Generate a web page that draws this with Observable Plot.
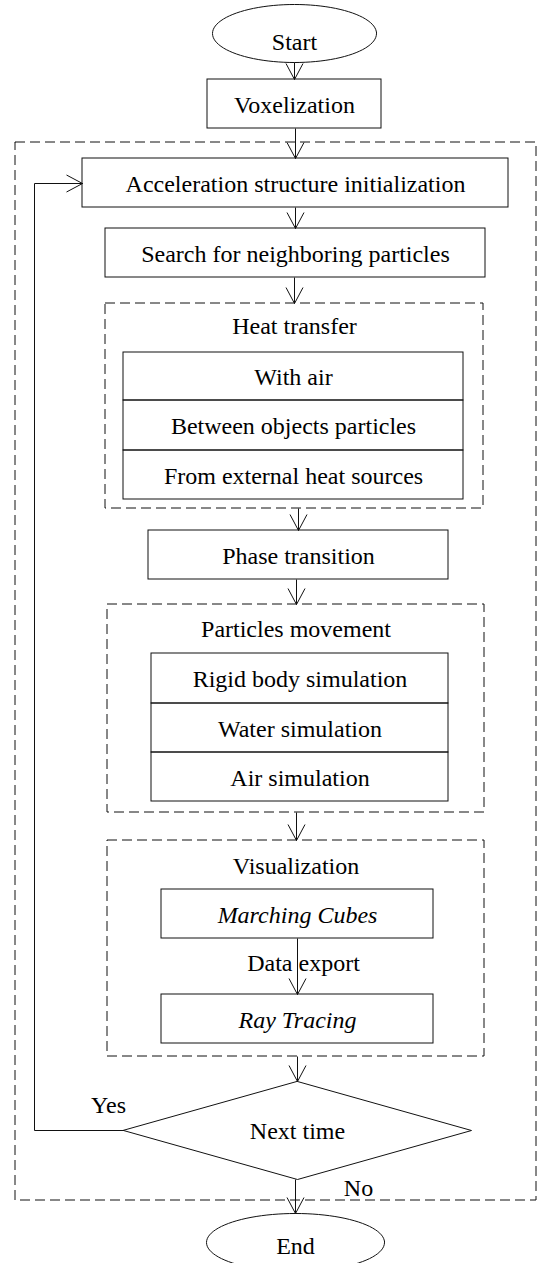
<!DOCTYPE html>
<html>
<head>
<meta charset="utf-8">
<script src="https://cdn.jsdelivr.net/npm/d3@7"></script>
<script src="https://cdn.jsdelivr.net/npm/@observablehq/plot@0.6"></script>
<style>
  html, body { margin: 0; padding: 0; background: #fff; }
  #chart svg { display: block; }
</style>
</head>
<body>
<div id="chart"></div>
<script>
// ---------------- data (labels and flow) ----------------
const terminals = ["Start", "End"];
const steps = ["Voxelization", "Acceleration structure initialization", "Search for neighboring particles", "Phase transition"];
const groups = ["Heat transfer", "Particles movement", "Visualization"];
const heatTransfer = ["With air", "Between objects particles", "From external heat sources"];
const particlesMovement = ["Rigid body simulation", "Water simulation", "Air simulation"];
const visualization = ["Marching Cubes", "Ray Tracing"];
const decision = ["Next time"];
const edgeLabels = ["Data export", "Yes", "No"];
const flow = [
  ["Start", "Voxelization"],
  ["Voxelization", "Acceleration structure initialization"],
  ["Acceleration structure initialization", "Search for neighboring particles"],
  ["Search for neighboring particles", "Heat transfer"],
  ["Heat transfer", "Phase transition"],
  ["Phase transition", "Particles movement"],
  ["Particles movement", "Visualization"],
  ["Marching Cubes", "Ray Tracing"],
  ["Visualization", "Next time"],
  ["Next time", "End"]
];
const loopBack = ["Next time", "Acceleration structure initialization"]; // "Yes" branch

// ---------------- layout (pixels, kept apart from the data) ----------------
const W = 537, H = 1263;
const stepBoxes = { // [x1, x2, y1, y2]
  "Voxelization": [207, 381, 79, 128],
  "Acceleration structure initialization": [82, 508, 158, 207],
  "Search for neighboring particles": [105, 485, 228, 277],
  "Phase transition": [148, 448, 530, 579]
};
const groupBoxes = { // dashed container, title centre y, inner stack x-range and row edges
  "Heat transfer": {box: [105, 483, 303, 508], titleY: 325, inner: [123, 463], rows: [352, 400, 450, 499]},
  "Particles movement": {box: [107, 484, 604, 812], titleY: 628, inner: [151, 448], rows: [653, 703, 752, 801]},
  "Visualization": {box: [107, 484, 840, 1056], titleY: 865}
};
const visBoxes = {"Marching Cubes": [161, 433, 889, 938], "Ray Tracing": [161, 433, 994, 1043]};
const terminalShapes = {
  "Start": {cx: 294, cy: 33, rx: 82, ry: 29, textY: 41},
  "End": {cx: 295, cy: 1242, rx: 89, ry: 29, textY: 1245}
};
const diamondShape = {cx: 297, cy: 1130, hw: 174, hh: 49};
const outerLoopBox = [15, 536, 142, 1200];
const loopX = 34;
const labelPos = {"Data export": [303, 962], "Yes": [108, 1104], "No": [358, 1187]};

// ---------------- build tables ----------------
const font = "'Liberation Serif', 'Times New Roman', Times, serif";
const ink = "#111";
const rectRow = (label, b, extra = {}) => ({label, x1: b[0], x2: b[1], y1: b[2], y2: b[3], ...extra});

const solidBoxes = [];
const boxTexts = [];
const italicTexts = [];
steps.forEach(s => {
  const r = rectRow(s, stepBoxes[s]);
  solidBoxes.push(r);
  boxTexts.push({label: s, x: (r.x1 + r.x2) / 2, y: (r.y1 + r.y2) / 2});
});
const stacks = [[groups[0], heatTransfer], [groups[1], particlesMovement]];
stacks.forEach(([g, items]) => {
  const G = groupBoxes[g];
  items.forEach((s, i) => {
    const r = rectRow(s, [G.inner[0], G.inner[1], G.rows[i], G.rows[i + 1]]);
    solidBoxes.push(r);
    boxTexts.push({label: s, x: (r.x1 + r.x2) / 2, y: (r.y1 + r.y2) / 2});
  });
});
visualization.forEach(s => {
  const r = rectRow(s, visBoxes[s]);
  solidBoxes.push(r);
  italicTexts.push({label: s, x: (r.x1 + r.x2) / 2, y: (r.y1 + r.y2) / 2});
});
const dashedBoxes = groups.map(g => rectRow(g, groupBoxes[g].box));
dashedBoxes.unshift(rectRow("loop", outerLoopBox));
groups.forEach(g => {
  const G = groupBoxes[g];
  boxTexts.push({label: g, x: (G.box[0] + G.box[1]) / 2, y: G.titleY});
});

// ellipses for terminals (outline sampled along the ellipse)
const ellipsePts = [];
terminals.forEach(t => {
  const e = terminalShapes[t];
  for (let k = 0; k < 96; k++) {
    const a = (k / 96) * 2 * Math.PI;
    ellipsePts.push({id: t, x: e.cx + e.rx * Math.cos(a), y: e.cy + e.ry * Math.sin(a)});
  }
  boxTexts.push({label: t, x: e.cx, y: e.textY});
});
// diamond for the decision
const d = diamondShape;
const diamondPts = [[0, -1], [1, 0], [0, 1], [-1, 0]].map(([u, v]) => ({x: d.cx + u * d.hw, y: d.cy + v * d.hh}));
boxTexts.push({label: decision[0], x: d.cx, y: d.cy});

// bounds of any node
function bounds(id) {
  if (stepBoxes[id]) { const b = stepBoxes[id]; return {x1: b[0], x2: b[1], y1: b[2], y2: b[3]}; }
  if (visBoxes[id]) { const b = visBoxes[id]; return {x1: b[0], x2: b[1], y1: b[2], y2: b[3]}; }
  if (groupBoxes[id]) { const b = groupBoxes[id].box; return {x1: b[0], x2: b[1], y1: b[2], y2: b[3]}; }
  if (terminalShapes[id]) { const e = terminalShapes[id]; return {x1: e.cx - e.rx, x2: e.cx + e.rx, y1: e.cy - e.ry, y2: e.cy + e.ry}; }
  if (id === decision[0]) return {x1: d.cx - d.hw, x2: d.cx + d.hw, y1: d.cy - d.hh, y2: d.cy + d.hh};
}
const shafts = flow.map(([a, b]) => {
  const A = bounds(a), B = bounds(b);
  const x = Math.round((B.x1 + B.x2) / 2);
  return {x1: x, x2: x, y1: A.y2, y2: B.y1};
});
const heads = shafts.map(s => ({x: s.x2, y: s.y2, rot: 0}));

// Yes branch: from the diamond's left corner back up to the acceleration box
const D = bounds(loopBack[0]), T = bounds(loopBack[1]);
const ty = Math.round((T.y1 + T.y2) / 2);
const loopPath = [
  {x: D.x1, y: d.cy}, {x: loopX, y: d.cy}, {x: loopX, y: ty}, {x: T.x1, y: ty}
];
heads.push({x: T.x1, y: ty, rot: -90});

const edgeTexts = edgeLabels.map(l => ({label: l, x: labelPos[l][0], y: labelPos[l][1]}));

// open "V" arrowhead, tip at origin, pointing down
const vHead = {draw(ctx) { ctx.moveTo(-8.5, -16); ctx.lineTo(0, 0); ctx.lineTo(8.5, -16); }};

const chart = Plot.plot({
  width: W,
  height: H,
  margin: 0,
  x: {domain: [0, W], range: [0, W], axis: null},
  y: {domain: [0, H], range: [0, H], axis: null},
  style: {background: "#fff", fontFamily: font},
  marks: [
    Plot.rect(dashedBoxes, {x1: "x1", x2: "x2", y1: "y1", y2: "y2", fill: "none", stroke: ink, strokeWidth: 1, strokeDasharray: "10,5"}),
    Plot.rect(solidBoxes, {x1: "x1", x2: "x2", y1: "y1", y2: "y2", fill: "none", stroke: ink, strokeWidth: 1}),
    Plot.line(ellipsePts, {x: "x", y: "y", z: "id", curve: "linear-closed", stroke: ink, strokeWidth: 1}),
    Plot.line(diamondPts, {x: "x", y: "y", curve: "linear-closed", stroke: ink, strokeWidth: 1}),
    Plot.link(shafts, {x1: "x1", y1: "y1", x2: "x2", y2: "y2", stroke: ink, strokeWidth: 1}),
    Plot.line(loopPath, {x: "x", y: "y", stroke: ink, strokeWidth: 1}),
    Plot.dot(heads, {x: "x", y: "y", rotate: "rot", symbol: vHead, fill: "none", stroke: ink, strokeWidth: 1}),
    Plot.text(boxTexts, {x: "x", y: "y", text: "label", fontSize: 24, fontFamily: font, fill: "#000", dy: 1}),
    Plot.text(italicTexts, {x: "x", y: "y", text: "label", fontSize: 24, fontFamily: font, fontStyle: "italic", fill: "#000", dy: 1}),
    Plot.text(edgeTexts, {x: "x", y: "y", text: "label", fontSize: 24, fontFamily: font, fill: "#000", dy: 1})
  ]
});
document.getElementById("chart").appendChild(chart);
</script>
</body>
</html>
